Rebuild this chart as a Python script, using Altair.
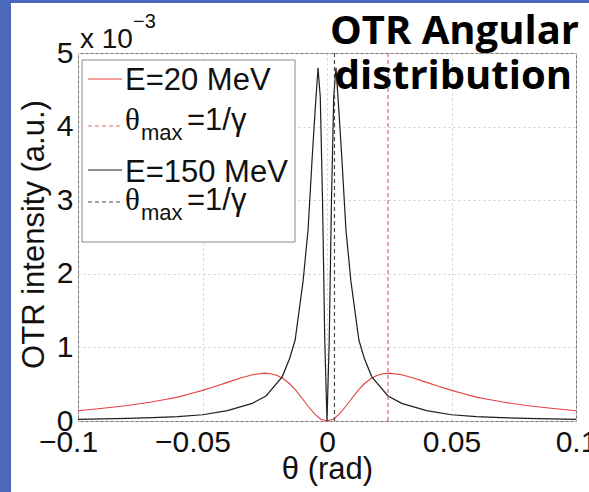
import altair as alt
import pandas as pd

# ---- data (intensity in units of 1e-3 a.u.) ----
theta_red = [-0.1, -0.09, -0.08, -0.07, -0.065, -0.06, -0.055, -0.05, -0.045, -0.04,
             -0.035, -0.03, -0.025, -0.0225, -0.02, -0.0175, -0.015, -0.0125, -0.01,
             -0.0075, -0.005, -0.0025, 0.0, 0.0025, 0.005, 0.0075, 0.01, 0.0125, 0.015,
             0.0175, 0.02, 0.0225, 0.025, 0.03, 0.035, 0.04, 0.045, 0.05, 0.055, 0.06,
             0.065, 0.07, 0.08, 0.09, 0.1]
intensity_red = [0.14, 0.173, 0.211, 0.261, 0.292, 0.324, 0.369, 0.416, 0.469, 0.525,
                 0.582, 0.629, 0.65, 0.643, 0.619, 0.574, 0.506, 0.416, 0.309,
                 0.197, 0.096, 0.025, 0.0, 0.025, 0.096, 0.197, 0.309, 0.416, 0.506,
                 0.574, 0.619, 0.643, 0.65, 0.629, 0.582, 0.525, 0.469, 0.416, 0.369, 0.324,
                 0.292, 0.261, 0.211, 0.173, 0.14]

theta_black = [-0.1, -0.09, -0.08, -0.07, -0.06, -0.05, -0.04, -0.03, -0.0245, -0.018,
               -0.015, -0.0128, -0.0096, -0.0076, -0.006, -0.0048, -0.0036, -0.0027,
               -0.0018, -0.0009, 0.0, 0.0009, 0.0018, 0.0027, 0.0036, 0.0048, 0.006,
               0.0076, 0.0096, 0.0128, 0.015, 0.018, 0.0245, 0.03, 0.04, 0.05, 0.06,
               0.07, 0.08, 0.09, 0.1]
intensity_black = [0.022, 0.028, 0.035, 0.045, 0.06, 0.085, 0.14, 0.24, 0.34, 0.6,
                   0.85, 1.1, 1.9, 2.6, 3.55, 4.2, 4.8, 4.4,
                   3.0, 1.1, 0.0, 1.1, 3.0, 4.4, 4.8, 4.2, 3.55,
                   2.6, 1.9, 1.1, 0.85, 0.6, 0.34, 0.24, 0.14, 0.085, 0.06,
                   0.045, 0.035, 0.028, 0.022]

energies = ["E=20 MeV", "E=150 MeV"]
theta_max = [0.0245, 0.003]

x_ticks = [-0.1, -0.05, 0, 0.05, 0.1]
y_ticks = [0, 1, 2, 3, 4, 5]

SANS = "Liberation Sans"
RED = "#e2413f"
BLACK = "#1e1e1e"

red_df = pd.DataFrame({"theta": theta_red, "I": intensity_red})
black_df = pd.DataFrame({"theta": theta_black, "I": intensity_black})
max_df = pd.DataFrame({"energy": energies, "theta": theta_max})

x_scale = alt.Scale(domain=[-0.1, 0.1], nice=False, zero=False)
y_scale = alt.Scale(domain=[0, 5], nice=False)

x_axis = alt.Axis(
    values=x_ticks, format="~g", title="θ (rad)",
    labelFont=SANS, labelFontSize=30, labelColor="#111", labelPadding=6,
    labelFlush=False, labelOverlap=False,
    labelOffset={"condition": {"test": "datum.value < 0", "value": -10}, "value": 0},
    grid=True, gridDash=[2, 3], gridColor="#cdcdcd", ticks=False, domain=False,
    titleFont=SANS, titleFontSize=31, titleFontWeight="normal", titleColor="#111",
    titleX=249, titleY=57, titleBaseline="alphabetic", titleAlign="center",
)
y_axis = alt.Axis(
    values=y_ticks, format="d", title="OTR intensity (a.u.)",
    labelFont=SANS, labelFontSize=30, labelColor="#111", labelPadding=5,
    labelFlush=False, labelOverlap=False, labelBaseline="middle",
    grid=True, gridDash=[2, 3], gridColor="#cdcdcd", ticks=False, domain=False,
    titleFont=SANS, titleFontSize=31, titleFontWeight="normal", titleColor="#111",
    titleAngle=270, titleX=-35, titleY=181, titleBaseline="alphabetic", titleAlign="center",
)

one = alt.Data(values=[{}])


def deco_rect(x, x2, y, y2, fill, stroke=None):
    kw = {"fill": fill}
    if stroke:
        kw["stroke"] = stroke
        kw["strokeWidth"] = 1
    return alt.Chart(one).mark_rect(**kw).encode(
        x=alt.value(x), x2=alt.value(x2), y=alt.value(y), y2=alt.value(y2))


def deco_rule(x, x2, y, color, dash=None):
    kw = {"color": color, "strokeWidth": 1.2}
    if dash:
        kw["strokeDash"] = dash
    return alt.Chart(one).mark_rule(**kw).encode(
        x=alt.value(x), x2=alt.value(x2), y=alt.value(y))


def deco_text(s, x, y, size, font=SANS, weight="normal", align="left", color="#111"):
    return alt.Chart(one).mark_text(
        text=s, font=font, fontSize=size, fontWeight=weight, align=align,
        baseline="alphabetic", color=color).encode(x=alt.value(x), y=alt.value(y))


base_x = alt.X("theta:Q", scale=x_scale, axis=x_axis)
base_y = alt.Y("I:Q", scale=y_scale, axis=y_axis)

red_line = alt.Chart(red_df).mark_line(color=RED, strokeWidth=1.1).encode(x=base_x, y=base_y)
black_line = alt.Chart(black_df).mark_line(color=BLACK, strokeWidth=1.2).encode(
    x=alt.X("theta:Q", scale=x_scale), y=alt.Y("I:Q", scale=y_scale))

max_rules = alt.Chart(max_df).mark_rule(strokeDash=[4, 3], strokeWidth=1.2).encode(
    x=alt.X("theta:Q", scale=x_scale),
    color=alt.Color("energy:N", scale=alt.Scale(domain=energies, range=["#d86a6a", "#4a4a4a"]),
                    legend=None),
)

layers = [
    # blue slide border
    deco_rect(-78, -67, -53, 439, "#4a69bd"),
    deco_rect(-78, 511, -53, -50, "#4a69bd"),
    red_line, black_line, max_rules,
    # legend
    deco_rect(4, 217, 7, 189, "white", "#8a8a8a"),
    deco_rule(10, 44, 26, RED),
    deco_text("E=20 MeV", 47, 37, 31),
    deco_rule(10, 44, 73, "#d86a6a", [4, 3]),
    deco_text("θ", 47, 77, 31, font="Liberation Serif"),
    deco_text("max", 63, 87, 22),
    deco_text("=1/γ", 109, 77, 31),
    deco_rule(10, 44, 117, BLACK),
    deco_text("E=150 MeV", 47, 129, 31),
    deco_rule(10, 44, 149, "#4a4a4a", [4, 3]),
    deco_text("θ", 47, 157, 31, font="Liberation Serif"),
    deco_text("max", 63, 167, 22),
    deco_text("=1/γ", 109, 157, 31),
    # exponent
    deco_text("x 10", 2, -5, 28),
    deco_text("−3", 55, -25, 20),
    # slide title
    deco_text("OTR Angular", 501, -9, 40, font="Open Sans", weight="bold", align="right", color="#000"),
    deco_text("distribution", 494, 36, 40, font="Open Sans", weight="bold", align="right", color="#000"),
]

chart = alt.layer(*layers).properties(
    width=498, height=368,
    autosize="none",
    padding={"left": 78, "top": 53, "right": 13, "bottom": 71},
    background="white",
).configure_view(stroke="#7a7a7a", strokeWidth=1)

chart.save("out.html", embed_options={"renderer": "svg", "actions": False})
